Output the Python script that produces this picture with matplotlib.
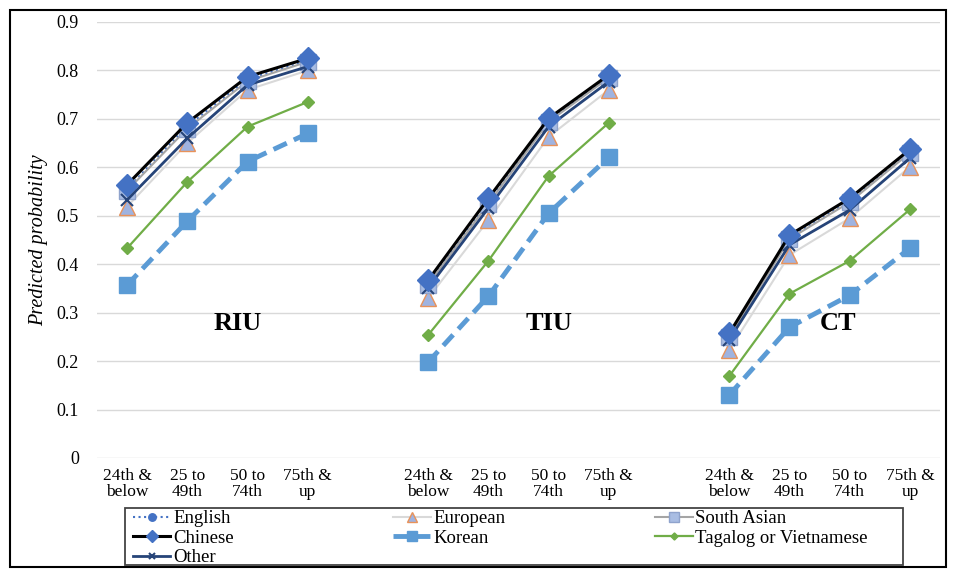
import matplotlib
matplotlib.use("Agg")
import matplotlib.pyplot as plt
from matplotlib.patches import Rectangle
import numpy as np

plt.rcParams['font.family'] = ['Liberation Serif', 'DejaVu Serif']

# categories (same four in each panel)
categories = ['24th &\nbelow', '25 to\n49th', '50 to\n74th', '75th &\nup']
panels = ['RIU', 'TIU', 'CT']

# values: RIU (4), TIU (4), CT (4)
english = [0.555, 0.685, 0.782, 0.820, 0.360, 0.528, 0.697, 0.787, 0.252, 0.455, 0.530, 0.632]
european = [0.519, 0.650, 0.760, 0.800, 0.330, 0.491, 0.663, 0.760, 0.223, 0.419, 0.495, 0.601]
south_asian = [0.552, 0.680, 0.778, 0.818, 0.358, 0.525, 0.694, 0.785, 0.250, 0.452, 0.528, 0.630]
chinese = [0.564, 0.692, 0.787, 0.825, 0.367, 0.536, 0.701, 0.791, 0.257, 0.460, 0.536, 0.637]
korean = [0.357, 0.489, 0.612, 0.670, 0.198, 0.334, 0.505, 0.621, 0.130, 0.270, 0.336, 0.433]
tagalog = [0.433, 0.570, 0.684, 0.735, 0.254, 0.407, 0.582, 0.692, 0.169, 0.339, 0.407, 0.513]
other = [0.533, 0.660, 0.770, 0.808, 0.351, 0.516, 0.684, 0.777, 0.244, 0.440, 0.512, 0.619]

series = [
    ('English', english, dict(color='#4472C4', ls=':', lw=1.5, marker='o', ms=9,
                              mfc='#4472C4', mec='#4472C4'), 2),
    ('European', european, dict(color='#D9D9D9', ls='-', lw=1.5, marker='^', ms=11,
                                mfc='#9fb3e0', mec='#E8925A'), 3),
    ('South Asian', south_asian, dict(color='#A5A5A5', ls='-', lw=1.5, marker='s', ms=12,
                                      mfc='#a9bde3', mec='#8fa3cc'), 4),
    ('Chinese', chinese, dict(color='black', ls='-', lw=2.2, marker='D', ms=11,
                              mfc='#4472C4', mec='#4472C4'), 7),
    ('Korean', korean, dict(color='#5B9BD5', ls=(0, (3, 1.6)), lw=3.5, marker='s', ms=11,
                            mfc='#5B9BD5', mec='#5B9BD5'), 5),
    ('Tagalog or Vietnamese', tagalog, dict(color='#70AD47', ls='-', lw=1.6, marker='D', ms=6,
                                            mfc='#70AD47', mec='#70AD47'), 5),
    ('Other', other, dict(color='#264478', ls='-', lw=2.0, marker='x', ms=8,
                          mew=1.5, mec='#264478'), 6),
]

W, H = 954, 569
fig = plt.figure(figsize=(W / 100, H / 100), dpi=100)
ax = fig.add_axes([97 / W, (H - 458) / H, 843 / W, 436 / H])

handles = {}
for name, vals, style, z in series:
    for g in range(3):
        x = np.arange(4) + g * 5
        line, = ax.plot(x, vals[g * 4:(g + 1) * 4], zorder=z, **style)
        if g == 0:
            handles[name] = line

# group labels
for g, (name, dx) in enumerate(zip(panels, [1.84, 2.0, 1.81])):
    ax.text(g * 5 + dx, 0.278, name, ha='center', va='center', fontsize=19, fontweight='bold')

ax.set_xlim(-0.5, 13.5)
ax.set_ylim(0, 0.9)
ax.set_yticks(np.arange(0, 0.91, 0.1))
ax.set_yticklabels(['0'] + ['%.1f' % v for v in np.arange(0.1, 0.91, 0.1)], fontsize=13)
xt = [g * 5 + i for g in range(3) for i in range(4)]
ax.set_xticks(xt)
ax.set_xticklabels(categories * 3, fontsize=12.5, linespacing=1.0)
ax.tick_params(length=0)
ax.tick_params(axis='x', pad=7)
ax.tick_params(axis='y', pad=13)
ax.grid(axis='y', color='#D9D9D9', lw=1)
ax.set_axisbelow(True)
for s in ax.spines.values():
    s.set_visible(False)
ax.set_ylabel('Predicted probability', fontsize=14.5, style='italic', labelpad=6)

# legend: three equal-width columns inside one box
columns = [['English', 'Chinese', 'Other'], ['European', 'Korean'],
           ['South Asian', 'Tagalog or Vietnamese']]
col_x = [133, 393, 655]
for names, cx in zip(columns, col_x):
    leg = fig.legend([handles[k] for k in names], names, loc='upper left',
                     bbox_to_anchor=(cx / W, (H - 510) / H), fontsize=13.5,
                     frameon=False, handlelength=2.0, handletextpad=0.15,
                     labelspacing=0.13, borderpad=0, borderaxespad=0, markerscale=0.6)
fig.patches.append(Rectangle((125 / W, (H - 565) / H), 778 / W, 57 / H,
                             transform=fig.transFigure, fill=False,
                             edgecolor='#444444', lw=1.3))

fig.patches.append(Rectangle((0.011, 0.004), 0.981, 0.979, transform=fig.transFigure,
                             fill=False, edgecolor='black', lw=1.5))

fig.savefig('out.png', dpi=100)
